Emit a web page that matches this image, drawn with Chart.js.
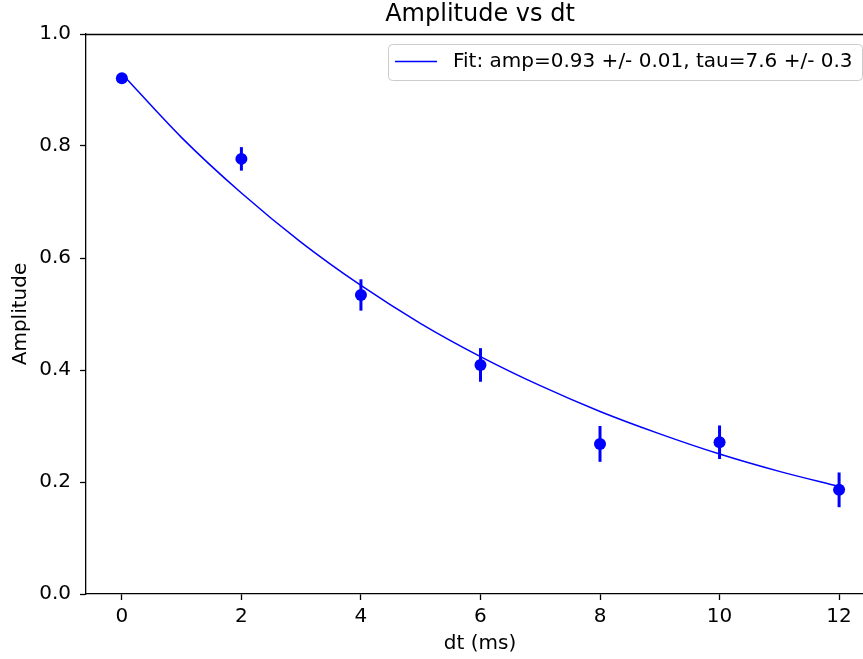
<!DOCTYPE html>
<html>
<head>
<meta charset="utf-8">
<script src="https://cdn.jsdelivr.net/npm/chart.js@4"></script>
<style>
html,body{margin:0;padding:0;background:#fff;}
canvas{display:block;}
</style>
</head>
<body>
<canvas id="c" width="863" height="659"></canvas>
<script>
// ---- data ----
const dtValues = [0, 2, 4, 6, 8, 10, 12];
const ampValues = [0.921, 0.777, 0.534, 0.409, 0.268, 0.271, 0.186];
const ampErrors = [0.008, 0.021, 0.028, 0.030, 0.032, 0.030, 0.031];
const fitT = [0, 1, 2, 3, 4, 5, 6, 7, 8, 9, 10, 11, 12];
const fitAmp = [0.929, 0.815, 0.716, 0.628, 0.551, 0.483, 0.424, 0.372, 0.326, 0.286, 0.250, 0.219, 0.192];
const xTicks = [0, 2, 4, 6, 8, 10, 12];
const yTicks = [0.0, 0.2, 0.4, 0.6, 0.8, 1.0];
const titleText = 'Amplitude vs dt';
const xLabel = 'dt (ms)';
const yLabel = 'Amplitude';
const fitLabel = 'Fit: amp=0.93 +/- 0.01, tau=7.6 +/- 0.3';

const FONT = '"DejaVu Sans", sans-serif';
const BLUE = '#0000ff';

const errorBars = {
  id: 'errorBars',
  beforeDatasetsDraw(chart) {
    const {ctx, scales: {x, y}} = chart;
    ctx.save();
    ctx.strokeStyle = BLUE;
    ctx.lineWidth = 3;
    dtValues.forEach((t, i) => {
      const px = x.getPixelForValue(t);
      ctx.beginPath();
      ctx.moveTo(px, y.getPixelForValue(ampValues[i] - ampErrors[i]));
      ctx.lineTo(px, y.getPixelForValue(ampValues[i] + ampErrors[i]));
      ctx.stroke();
    });
    ctx.restore();
  }
};

const frame = {
  id: 'frame',
  afterDraw(chart) {
    const {ctx, chartArea: a} = chart;
    ctx.save();
    ctx.strokeStyle = '#000';
    ctx.lineWidth = 1.3;
    ctx.beginPath();
    ctx.moveTo(a.left, a.top + 0.5);
    ctx.lineTo(a.right + 2, a.top + 0.5);
    ctx.stroke();
    // title
    ctx.fillStyle = '#000';
    ctx.font = '24px ' + FONT;
    ctx.textAlign = 'center';
    ctx.textBaseline = 'middle';
    ctx.fillText(titleText, 480, 15);
    // axis labels
    ctx.font = '20px ' + FONT;
    ctx.fillText(xLabel, 480, 644);
    ctx.translate(21, 314);
    ctx.rotate(-Math.PI / 2);
    ctx.fillText(yLabel, 0, 0);
    ctx.restore();
    // legend
    ctx.save();
    const bx = 388, by = 44, bw = 474, bh = 36, r = 4;
    ctx.globalAlpha = 0.8;
    ctx.fillStyle = '#fff';
    ctx.beginPath();
    ctx.roundRect(bx + 0.5, by + 0.5, bw, bh, r);
    ctx.fill();
    ctx.globalAlpha = 1;
    ctx.strokeStyle = '#cccccc';
    ctx.lineWidth = 1;
    ctx.stroke();
    ctx.strokeStyle = BLUE;
    ctx.lineWidth = 1.5;
    ctx.beginPath();
    ctx.moveTo(395, 61.5);
    ctx.lineTo(437, 61.5);
    ctx.stroke();
    ctx.fillStyle = '#000';
    ctx.font = '20px ' + FONT;
    ctx.textAlign = 'left';
    ctx.textBaseline = 'middle';
    ctx.fillText(chart.data.datasets[0].label, 453, 62);
    ctx.restore();
  }
};

new Chart(document.getElementById('c'), {
  type: 'scatter',
  data: {
    datasets: [
      {
        label: fitLabel,
        type: 'line',
        data: fitT.map((t, i) => ({x: t, y: fitAmp[i]})),
        borderColor: BLUE,
        borderWidth: 1.5,
        pointRadius: 0,
        pointHoverRadius: 0,
        fill: false,
        cubicInterpolationMode: 'monotone',
        order: 2
      },
      {
        label: 'data',
        data: dtValues.map((t, i) => ({x: t, y: ampValues[i]})),
        backgroundColor: BLUE,
        borderColor: BLUE,
        pointRadius: 6,
        pointHoverRadius: 6,
        pointBorderWidth: 0,
        order: 1
      }
    ]
  },
  options: {
    responsive: false,
    animation: false,
    events: [],
    layout: {autoPadding: false, padding: {top: 34, left: 0, right: 0, bottom: 0}},
    plugins: {legend: {display: false}, tooltip: {enabled: false}, title: {display: false}},
    scales: {
      x: {
        type: 'linear',
        min: -0.6,
        max: 12.4,
        afterBuildTicks: s => { s.ticks = xTicks.map(v => ({value: v})); },
        afterFit: s => { s.height = 65; s.paddingLeft = 0; s.paddingRight = 0; },
        grid: {display: true, drawOnChartArea: false, drawTicks: true, tickLength: 6, color: '#000', tickWidth: 1.3},
        border: {display: true, color: '#000', width: 1.3},
        ticks: {color: '#000', font: {family: FONT, size: 20}, padding: 5, maxRotation: 0,
                callback: v => String(v)}
      },
      y: {
        type: 'linear',
        min: 0,
        max: 1,
        afterBuildTicks: s => { s.ticks = yTicks.map(v => ({value: v})); },
        afterFit: s => { s.width = 86; s.paddingTop = 0; s.paddingBottom = 0; },
        grid: {display: true, drawOnChartArea: false, drawTicks: true, tickLength: 6, color: '#000', tickWidth: 1.3},
        border: {display: true, color: '#000', width: 1.3},
        ticks: {color: '#000', font: {family: FONT, size: 20}, padding: 9,
                callback: v => Number(v).toFixed(1)}
      }
    }
  },
  plugins: [errorBars, frame]
});
</script>
</body>
</html>
